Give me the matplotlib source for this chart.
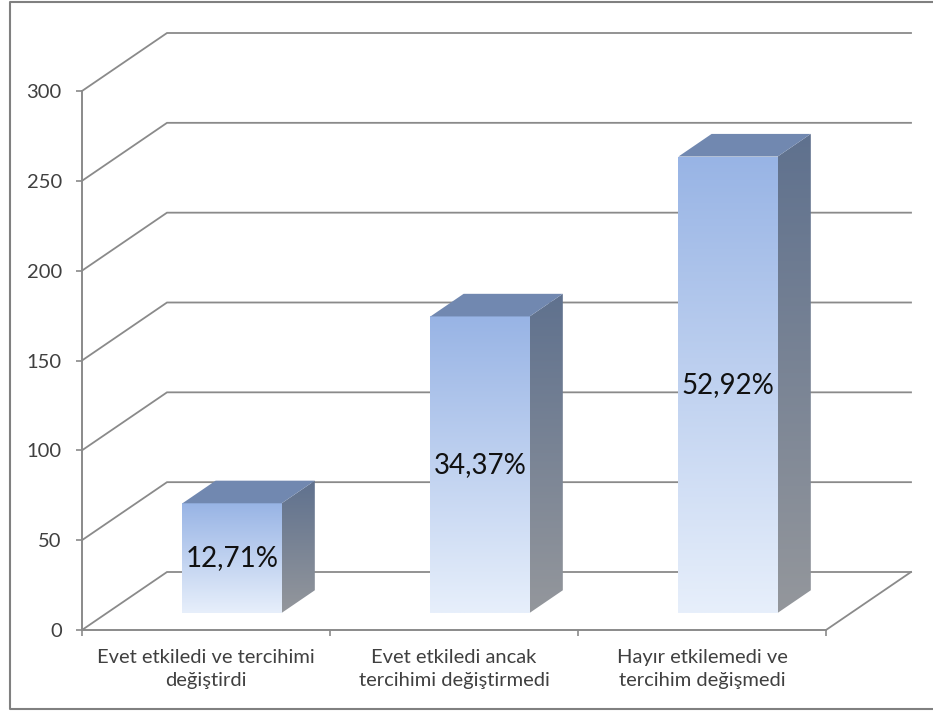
from __future__ import annotations

import matplotlib

matplotlib.use("Agg")
import matplotlib.pyplot as plt
import numpy as np
from matplotlib.patches import Polygon, Rectangle

CATEGORIES = [
    "Evet etkiledi ve tercihimi\ndeğiştirdi",
    "Evet etkiledi ancak\ntercihimi değiştirmedi",
    "Hayır etkilemedi ve\ntercihim değişmedi",
]
COUNTS = [61, 165, 254]
PERCENT_LABELS = ["12,71%", "34,37%", "52,92%"]
Y_TICKS = [0, 50, 100, 150, 200, 250, 300]

W, H = 933, 713
X0, X1 = 82, 826
Y0, Y1 = 630, 91
DEPTH_X = 85 / (X1 - X0) * 3  # wall depth in category units
DEPTH_Y = 58 / (Y0 - Y1) * 300  # wall depth in value units
BAR_WIDTH = 0.4
BAR_FRONT = 0.295  # share of the floor depth in front of the bars
BAR_DEPTH = 0.39
BAR_NUDGE = 0.004

LINE = "#8a8a8a"
TEXT = "#404040"
FONT = "Lato"


def shifted(x: float, y: float, depth: float) -> tuple[float, float]:
    return x + depth * DEPTH_X, y + depth * DEPTH_Y


def gradient(ax, extent, top, bottom, clip=None):
    c1, c2 = np.array(matplotlib.colors.to_rgb(top)), np.array(matplotlib.colors.to_rgb(bottom))
    t = np.linspace(0, 1, 256)[:, None, None]
    img = ax.imshow(c1 * (1 - t) + c2 * t, extent=extent, aspect="auto", origin="upper", zorder=3)
    if clip is not None:
        img.set_clip_path(clip)
    else:
        img.set_clip_path(
            Rectangle((extent[0], extent[2]), extent[1] - extent[0], extent[3] - extent[2], transform=ax.transData)
        )


def draw_bar(ax, center: float, value: float, label: str) -> None:
    left = center - BAR_WIDTH / 2 + BAR_NUDGE
    right = center + BAR_WIDTH / 2 + BAR_NUDGE
    x_l, y_b = shifted(left, 0, BAR_FRONT)
    x_r, y_t = shifted(right, value, BAR_FRONT)
    dx, dy = BAR_DEPTH * DEPTH_X, BAR_DEPTH * DEPTH_Y

    # front face
    gradient(ax, (x_l, x_r, y_b, y_t), "#98b4e5", "#e7effb")

    # right side face
    side = Polygon(
        [(x_r, y_b), (x_r + dx, y_b + dy), (x_r + dx, y_t + dy), (x_r, y_t)],
        closed=True, transform=ax.transData, facecolor="none", edgecolor="none",
    )
    ax.add_patch(side)
    gradient(ax, (x_r, x_r + dx, y_b, y_t + dy), "#5f718e", "#94979c", clip=side)

    # top face
    ax.add_patch(
        Polygon(
            [(x_l, y_t), (x_r, y_t), (x_r + dx, y_t + dy), (x_l + dx, y_t + dy)],
            closed=True, facecolor="#7188b0", edgecolor="none", zorder=3, clip_on=False,
        )
    )
    ax.text(
        (x_l + x_r) / 2, (y_b + y_t) / 2, label,
        ha="center", va="center", fontsize=20, color="#111111", family=FONT, zorder=5,
    )


def main() -> None:
    fig = plt.figure(figsize=(W / 100, H / 100), dpi=100, facecolor="white")
    ax = fig.add_axes([X0 / W, 1 - Y0 / H, (X1 - X0) / W, (Y0 - Y1) / H])
    ax.patch.set_alpha(0)

    n = len(CATEGORIES)

    # back wall lines running along the side wall, then across
    for v in Y_TICKS:
        bx, by = shifted(0, v, 1)
        ex, ey = shifted(n, v, 1)
        ax.plot([0, bx, ex], [v, by, ey], color=LINE, lw=1.3, clip_on=False, zorder=1, solid_joinstyle="miter")
    fx, fy = shifted(n, 0, 1)
    ax.plot([n, fx], [0, fy], color=LINE, lw=1.3, clip_on=False, zorder=1)

    for i, (value, label) in enumerate(zip(COUNTS, PERCENT_LABELS)):
        draw_bar(ax, i + 0.5, value, label)

    ax.set_xlim(0, n)
    ax.set_ylim(Y_TICKS[0], Y_TICKS[-1])

    for side in ("top", "right"):
        ax.spines[side].set_visible(False)
    for side in ("left", "bottom"):
        ax.spines[side].set_color(LINE)
        ax.spines[side].set_linewidth(1.4)

    ax.set_yticks(Y_TICKS)
    ax.set_xticks(np.arange(n + 1))
    ax.set_xticklabels([])
    ax.set_xticks(np.arange(n) + 0.5, CATEGORIES, minor=True)
    ax.tick_params(axis="x", which="minor", length=0, pad=14, labelsize=14.5, labelcolor=TEXT)
    ax.tick_params(axis="both", which="major", length=4.5, width=1.2, color=LINE, labelsize=14.5, labelcolor=TEXT)
    ax.tick_params(axis="y", pad=10)
    for t in ax.get_xticklabels(minor=True) + ax.get_yticklabels():
        t.set_family(FONT)
        t.set_linespacing(1.4)

    # frame around the chart area, open on the right
    fig.add_artist(
        plt.Line2D(
            [1, 10 / W, 10 / W, 1], [1 - 2 / H, 1 - 2 / H, 1 - 709 / H, 1 - 709 / H],
            color="#808080", lw=1.5, transform=fig.transFigure,
        )
    )

    fig.savefig("out.png", dpi=100)
    plt.close(fig)


if __name__ == "__main__":
    main()
